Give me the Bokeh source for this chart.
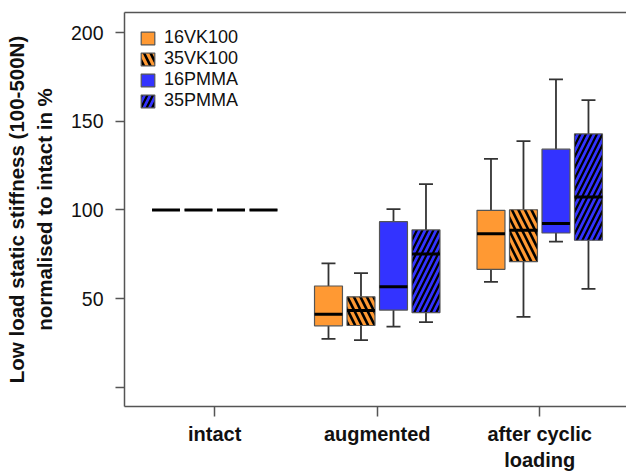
from bokeh.plotting import figure
from bokeh.models import ColumnDataSource, Range1d, FixedTicker, LinearAxis, Legend, LegendItem
from bokeh.embed import file_html
from bokeh.resources import INLINE

# ---- data ----
groups = ["intact", "augmented", "after cyclic\nloading"]
series = ["16VK100", "35VK100", "16PMMA", "35PMMA"]

# one row per series, one value per group
lower_whisker = [[100, 27.3, 59.4], [100, 26.6, 39.7], [100, 34.2, 82.1], [100, 36.7, 55.5]]
q1 = [[100, 34.6, 66.5], [100, 34.8, 70.8], [100, 43.5, 87.0], [100, 42.1, 82.9]]
median = [[100, 41.2, 86.6], [100, 43.3, 88.5], [100, 56.6, 92.4], [100, 75.1, 107.3]]
q3 = [[100, 57.1, 99.8], [100, 51.0, 100.1], [100, 93.4, 134.3], [100, 88.7, 142.9]]
upper_whisker = [[100, 69.9, 128.8], [100, 64.3, 138.8], [100, 100.5, 173.7], [100, 114.6, 162.0]]

y_ticks = [0, 50, 100, 150, 200]

# ---- styles ----
colors = ["#FF9933", "#FF9933", "#3333FF", "#3333FF"]
hatches = [None, "\\", None, "/"]
hatch_scales = [13, 13, 11, 11]
hatch_weights = [2.6, 2.6, 2.2, 2.2]
FONT = "Liberation Sans"

n_series = len(series)
group_step = n_series + 1
box_w = 0.86
cap_w = box_w / 2

p = figure(width=626, height=473, output_backend="svg", toolbar_location=None,
           x_range=Range1d(-0.277, 15.17), y_range=Range1d(-10.9, 211.4),
           min_border_left=124, min_border_right=0, min_border_top=12, min_border_bottom=66)
p.xgrid.visible = False
p.ygrid.visible = False
p.outline_line_color = None
p.background_fill_color = "white"
p.border_fill_color = "white"

# whiskers + caps (all series)
wx, wlo, whi = [], [], []
for s in range(n_series):
    for g in range(len(groups)):
        x = g * group_step + s + 1
        wx += [x, x]
        wlo += [q3[s][g], q1[s][g]]
        whi += [upper_whisker[s][g], lower_whisker[s][g]]
p.segment(x0=wx, y0=wlo, x1=wx, y1=whi, line_color="#333333", line_width=1.8)
p.segment(x0=[x - cap_w / 2 for x in wx], y0=whi, x1=[x + cap_w / 2 for x in wx], y1=whi,
          line_color="#333333", line_width=1.8)

# boxes per series
legend_items = []
med_x0, med_x1, med_y = [], [], []
for s in range(n_series):
    xs = [g * group_step + s + 1 for g in range(len(groups))]
    src = ColumnDataSource(dict(left=[x - box_w / 2 for x in xs], right=[x + box_w / 2 for x in xs],
                                bottom=q1[s], top=q3[s]))
    kw = {}
    if hatches[s]:
        kw = dict(hatch_pattern=hatches[s], hatch_color="black", hatch_scale=hatch_scales[s],
                  hatch_weight=hatch_weights[s])
    r = p.quad(left="left", right="right", bottom="bottom", top="top", source=src,
               fill_color=colors[s], line_color="#555555", line_width=1.2, **kw)
    legend_items.append(LegendItem(label=series[s], renderers=[r]))
    med_x0 += [x - box_w / 2 for x in xs]
    med_x1 += [x + box_w / 2 for x in xs]
    med_y += median[s]
p.segment(x0=med_x0, y0=med_y, x1=med_x1, y1=med_y, line_color="black", line_width=3)

# axes
ax_col = "#555555"
p.yaxis.ticker = FixedTicker(ticks=y_ticks)
p.yaxis.major_label_overrides = {0: ""}
p.yaxis.major_tick_out = 9
p.yaxis.major_tick_in = 0
p.yaxis.minor_tick_line_color = None
p.yaxis.axis_line_color = ax_col
p.yaxis.axis_line_width = 1.5
p.yaxis.major_tick_line_color = ax_col
p.yaxis.major_tick_line_width = 1.5
p.yaxis.major_label_text_font = FONT
p.yaxis.major_label_text_font_size = "19.5px"
p.yaxis.major_label_text_color = "#111111"
p.yaxis.major_label_standoff = 12
p.yaxis.axis_label = "Low load static stiffness (100-500N)\nnormalised to intact in %"
p.yaxis.axis_label_text_font = FONT
p.yaxis.axis_label_text_font_size = "20.5px"
p.yaxis.axis_label_text_font_style = "bold"
p.yaxis.axis_label_text_color = "#111111"
p.yaxis.axis_label_standoff = 12

centers = [g * group_step + (n_series + 1) / 2 for g in range(len(groups))]
p.xaxis.ticker = FixedTicker(ticks=centers)
p.xaxis.major_label_overrides = {c: lab for c, lab in zip(centers, groups)}
p.xaxis.major_tick_out = 10
p.xaxis.major_tick_in = 0
p.xaxis.minor_tick_line_color = None
p.xaxis.axis_line_color = ax_col
p.xaxis.axis_line_width = 1.5
p.xaxis.major_tick_line_color = ax_col
p.xaxis.major_tick_line_width = 1.5
p.xaxis.major_label_text_font = FONT
p.xaxis.major_label_text_font_size = "20px"
p.xaxis.major_label_text_font_style = "bold"
p.xaxis.major_label_text_color = "#111111"
p.xaxis.major_label_standoff = 6

top_axis = LinearAxis(ticker=FixedTicker(ticks=[]), axis_line_color=ax_col, axis_line_width=1.5,
                      major_tick_line_color=None, minor_tick_line_color=None,
                      major_label_text_font_size="0px")
p.add_layout(top_axis, "above")

legend = Legend(items=legend_items, location="top_left", border_line_color=None,
                background_fill_alpha=0, glyph_width=17, glyph_height=16,
                label_text_font=FONT, label_text_font_size="18px", label_text_color="#111111",
                label_standoff=8, spacing=0, padding=8, margin=15)
p.add_layout(legend)

open("out.html", "w").write(file_html(p, INLINE))
